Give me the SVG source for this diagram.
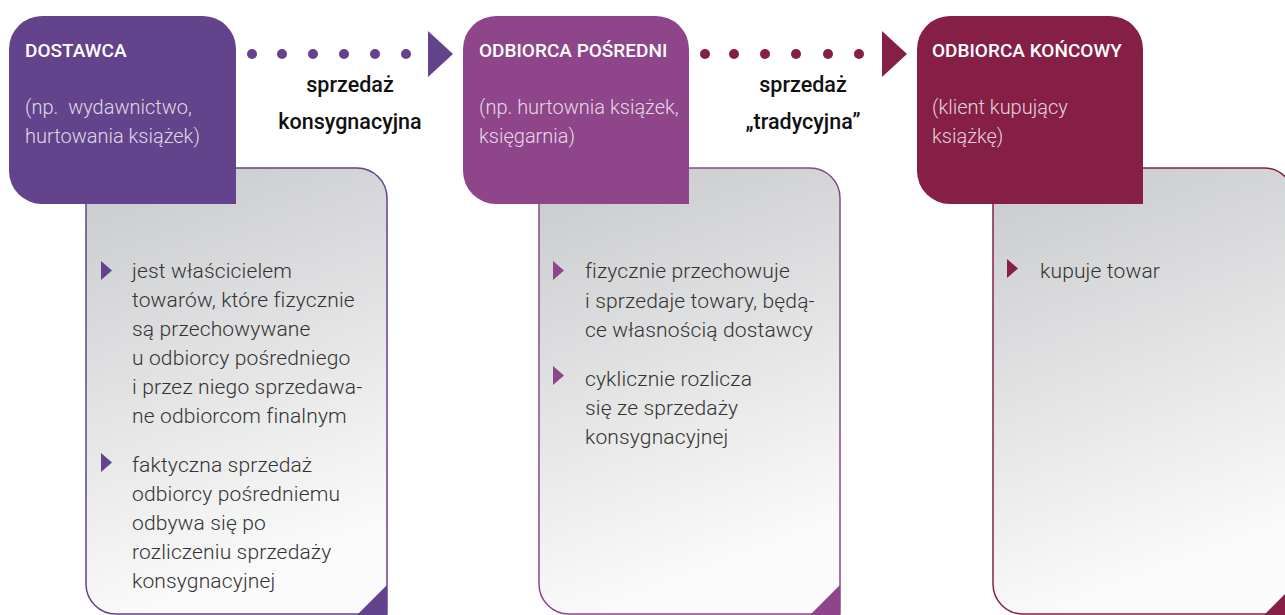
<svg xmlns="http://www.w3.org/2000/svg" width="1285" height="615" viewBox="0 0 1285 615">
<defs>
<linearGradient id="gray" x1="0" y1="0" x2="0.25" y2="1">
<stop offset="0" stop-color="#c8c9cb"/>
<stop offset="1" stop-color="#fbfbfb"/>
</linearGradient>
<polygon id="bul" points="0,0 11,9.5 0,19"/>
</defs>
<style>
.title{font-family:Roboto,"Liberation Sans",sans-serif;font-weight:500;font-size:19px;fill:#fff}
.sub{font-family:Roboto,"Liberation Sans",sans-serif;font-weight:300;font-size:20px;fill:#fff;fill-opacity:0.8}
.body{font-family:Roboto,"Liberation Sans",sans-serif;font-weight:300;font-size:21px;letter-spacing:0.15px;fill:#333}
.lab{font-family:Roboto,"Liberation Sans",sans-serif;font-weight:500;font-size:21.5px;fill:#111;text-anchor:middle}
.box{fill:url(#gray);stroke-width:1.5}
</style>
<rect width="1285" height="615" fill="#fff"/>

<g id="connectors">
<g fill="#63438b">
<circle cx="252" cy="54" r="5"/><circle cx="282" cy="54" r="5"/><circle cx="313" cy="54" r="5"/>
<circle cx="344" cy="54" r="5"/><circle cx="375" cy="54" r="5"/><circle cx="406" cy="54" r="5"/>
<polygon points="428,31 453,54 428,77"/>
</g>
<text class="lab" x="350" y="92">sprzedaż</text>
<text class="lab" x="350" y="129">konsygnacyjna</text>
<g fill="#861f46">
<circle cx="705" cy="54" r="5"/><circle cx="734" cy="54" r="5"/><circle cx="765" cy="54" r="5"/>
<circle cx="796" cy="54" r="5"/><circle cx="828" cy="54" r="5"/><circle cx="859" cy="54" r="5"/>
<polygon points="882,31 907,54 882,77"/>
</g>
<text class="lab" x="803" y="92">sprzedaż</text>
<text class="lab" x="803" y="129">„tradycyjna”</text>
</g>

<g id="node-dostawca">
<path class="box" stroke="#63438b" d="M86,168 H357 A30,30 0 0 1 387,198 V614 H116 A30,30 0 0 1 86,584 Z"/>
<polygon fill="#63438b" points="387,585 387,615 357,615"/>
<path fill="#63438b" d="M42,16 H203 A33,33 0 0 1 236,49 V204 H42 A33,33 0 0 1 9,171 V49 A33,33 0 0 1 42,16 Z"/>
<text class="title" x="25" y="57">DOSTAWCA</text>
<text class="sub" x="25" y="114" word-spacing="5">(np. wydawnictwo,</text>
<text class="sub" x="25" y="143">hurtowania książek)</text>
<use href="#bul" x="101" y="261" fill="#63438b"/>
<text class="body" x="132" y="278">jest właścicielem</text>
<text class="body" x="132" y="307">towarów, które fizycznie</text>
<text class="body" x="132" y="336">są przechowywane</text>
<text class="body" x="132" y="365">u odbiorcy pośredniego</text>
<text class="body" x="132" y="394">i przez niego sprzedawa-</text>
<text class="body" x="132" y="423">ne odbiorcom finalnym</text>
<use href="#bul" x="101" y="453" fill="#63438b"/>
<text class="body" x="132" y="472">faktyczna sprzedaż</text>
<text class="body" x="132" y="501">odbiorcy pośredniemu</text>
<text class="body" x="132" y="530">odbywa się po</text>
<text class="body" x="132" y="559">rozliczeniu sprzedaży</text>
<text class="body" x="132" y="588">konsygnacyjnej</text>
</g>

<g id="node-odbiorca-posredni">
<path class="box" stroke="#8e4589" d="M539,168 H810 A30,30 0 0 1 840,198 V614 H569 A30,30 0 0 1 539,584 Z"/>
<polygon fill="#8e4589" points="840,585 840,615 810,615"/>
<path fill="#8e4589" d="M496,16 H656 A33,33 0 0 1 689,49 V204 H496 A33,33 0 0 1 463,171 V49 A33,33 0 0 1 496,16 Z"/>
<text class="title" x="479" y="57">ODBIORCA POŚREDNI</text>
<text class="sub" x="479" y="114">(np. hurtownia książek,</text>
<text class="sub" x="479" y="143">księgarnia)</text>
<use href="#bul" x="553" y="261" fill="#8e4589"/>
<text class="body" x="585" y="278">fizycznie przechowuje</text>
<text class="body" x="585" y="307.5">i sprzedaje towary, będą-</text>
<text class="body" x="585" y="337">ce własnością dostawcy</text>
<use href="#bul" x="553" y="366" fill="#8e4589"/>
<text class="body" x="585" y="386">cyklicznie rozlicza</text>
<text class="body" x="585" y="415">się ze sprzedaży</text>
<text class="body" x="585" y="444">konsygnacyjnej</text>
</g>

<g id="node-odbiorca-koncowy">
<path class="box" stroke="#861f46" d="M993,168 H1264 A30,30 0 0 1 1294,198 V614 H1023 A30,30 0 0 1 993,584 Z"/>
<polygon fill="#861f46" points="1294,585 1294,615 1264,615"/>
<path fill="#861f46" d="M950,16 H1110 A33,33 0 0 1 1143,49 V204 H950 A33,33 0 0 1 917,171 V49 A33,33 0 0 1 950,16 Z"/>
<text class="title" x="932" y="57">ODBIORCA KOŃCOWY</text>
<text class="sub" x="932" y="114">(klient kupujący</text>
<text class="sub" x="932" y="143">książkę)</text>
<use href="#bul" x="1007" y="259" fill="#861f46"/>
<text class="body" x="1040" y="278">kupuje towar</text>
</g>
</svg>
